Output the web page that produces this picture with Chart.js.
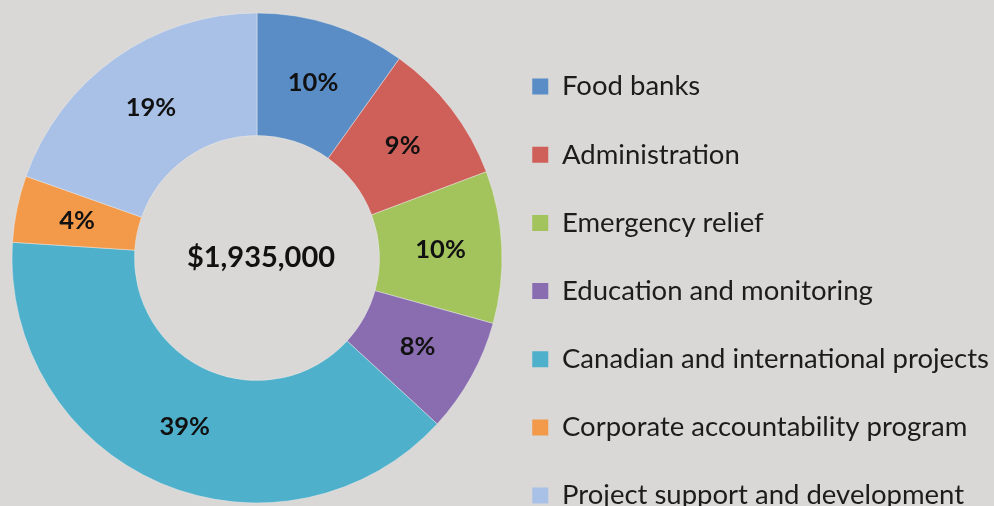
<!DOCTYPE html>
<html>
<head>
<meta charset="utf-8">
<script src="https://cdn.jsdelivr.net/npm/chart.js@4.4.1/dist/chart.umd.min.js"></script>
<style>
  html, body { margin: 0; padding: 0; width: 994px; height: 506px; overflow: hidden; background: #d9d8d6; }
  #wrap { position: absolute; left: 0; }
</style>
</head>
<body>
<div id="wrap"><canvas id="c"></canvas></div>
<script>
// ---- data ----
const categories = [
  'Food banks',
  'Administration',
  'Emergency relief',
  'Education and monitoring',
  'Canadian and international projects',
  'Corporate accountability program',
  'Project support and development'
];
const amounts = [191000, 182000, 194000, 146000, 758000, 85000, 379000];
const percentLabels = ['10%', '9%', '10%', '8%', '39%', '4%', '19%'];
const totalLabel = '$1,935,000';
const colors = ['#5a8dc6', '#cf5f59', '#a3c35c', '#8a6db0', '#4eb0cb', '#f29a4a', '#a9c1e6'];

// ---- layout constants ----
const FONT = 'Lato';
const legendFont = 27.5;
const rowStep = 68.17;
const legendPad = rowStep - legendFont;
const boxW = 16;
const K = Math.round(legendPad + legendFont / 2 - 20);
const H = 516 + 2 * K;
const boxX = 562 - boxW - legendFont / 2;
const chartRight = boxX - legendPad;
const chartLeft = 2 * 257 - chartRight;

// measure natural legend width so the legend starts exactly at chartRight
const mctx = document.createElement('canvas').getContext('2d');
mctx.font = legendFont + 'px ' + FONT;
const maxText = Math.max(...categories.map(t => mctx.measureText(t).width));
const naturalW = legendPad + boxW + legendFont / 2 + maxText + 10;
const legendW = 994 - chartRight;
const padRight = Math.max(0, legendW - naturalW);

const wrap = document.getElementById('wrap');
wrap.style.top = (-K) + 'px';
const canvas = document.getElementById('c');
canvas.width = 994; canvas.height = H;
canvas.style.width = '994px'; canvas.style.height = H + 'px';

const labelPlugin = {
  id: 'sliceLabels',
  afterDatasetsDraw(chart) {
    const ctx = chart.ctx;
    const meta = chart.getDatasetMeta(0);
    ctx.save();
    ctx.fillStyle = '#111111';
    ctx.textAlign = 'center';
    ctx.textBaseline = 'middle';
    ctx.font = 'bold 25.5px ' + FONT;
    meta.data.forEach((arc, i) => {
      const p = arc.getCenterPoint();
      ctx.fillText(percentLabels[i], p.x, p.y);
    });
    const a = meta.data[0];
    ctx.font = 'bold 29px ' + FONT;
    ctx.fillText(totalLabel, a.x + 4, a.y);
    ctx.restore();
  }
};

new Chart(canvas, {
  type: 'doughnut',
  data: {
    labels: categories,
    datasets: [{
      data: amounts,
      backgroundColor: colors,
      borderColor: 'rgba(235,235,235,0.45)',
      borderWidth: 1,
      radius: 245,
      cutout: '50%',
      clip: false
    }]
  },
  options: {
    responsive: false,
    animation: false,
    devicePixelRatio: 1,
    events: [],
    layout: { padding: { left: chartLeft, right: padRight, top: 0, bottom: 0 } },
    plugins: {
      tooltip: { enabled: false },
      legend: {
        position: 'right',
        align: 'end',
        maxWidth: legendW,
        labels: {
          font: { family: FONT, size: legendFont },
          color: '#1c1c1c',
          boxWidth: boxW,
          boxHeight: boxW,
          padding: legendPad,
          generateLabels(chart) {
            return chart.data.labels.map((t, i) => ({
              text: t,
              fillStyle: colors[i],
              strokeStyle: colors[i],
              lineWidth: 0,
              fontColor: '#1c1c1c',
              index: i,
              hidden: false
            }));
          }
        }
      }
    }
  },
  plugins: [labelPlugin]
});
</script>
</body>
</html>
